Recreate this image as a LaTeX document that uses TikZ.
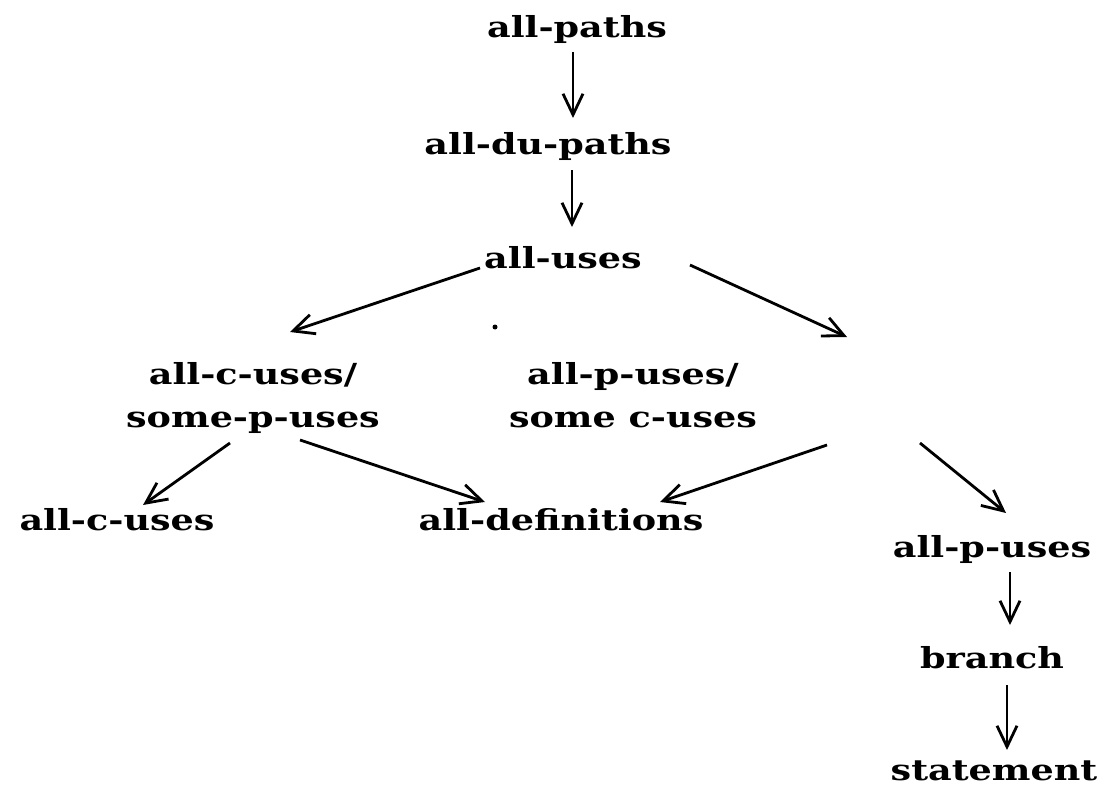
\documentclass[tikz,border=0pt]{standalone}
\usepackage{fontspec}
\usepackage{graphicx}
\setmainfont{DejaVu Serif}
\usetikzlibrary{arrows.meta}
% wide setting of the labels
\newcommand{\wlbl}[1]{\scalebox{1.26}[1]{#1}}
\begin{document}
\begin{tikzpicture}[x=1pt,y=-1pt,
  lbl/.style={font=\fontsize{29}{43}\selectfont\bfseries, inner sep=0pt, align=center, anchor=base},
  arr/.style={-{Straight Barb[length=21pt,width=20pt,line width=2.8pt]}, line width=2.8pt}]
\useasboundingbox (0,0) rectangle (1104,797);

% criteria
\node[lbl] (paths) at (577,38)  {\wlbl{all-paths}};
\node[lbl] (du)    at (548,155) {\wlbl{all-du-paths}};
\node[lbl] (uses)  at (563,268) {\wlbl{all-uses}};
\node[lbl] (cs)    at (253,427) {\wlbl{all-c-uses/}\\\wlbl{some-p-uses}};
\node[lbl] (ps)    at (633,427) {\wlbl{all-p-uses/}\\\wlbl{some c-uses}};
\node[lbl] (cu)    at (117,530) {\wlbl{all-c-uses}};
\node[lbl] (def)   at (561,530) {\wlbl{all-definitions}};
\node[lbl] (pu)    at (992,557) {\wlbl{all-p-uses}};
\node[lbl] (br)    at (992,668) {\wlbl{branch}};
\node[lbl] (st)    at (994,780) {\wlbl{statement}};

% subsumption arrows
\draw[arr] ([shift={(-4,14)}]paths.base) -- ([shift={(25,-37)}]du.base);
\draw[arr] ([shift={(24,15)}]du.base) -- ([shift={(9,-41)}]uses.base);
\draw[arr] ([shift={(-83,0)}]uses.base) -- ([shift={(37,-95)}]cs.base);
\draw[arr] ([shift={(127,-3)}]uses.base) -- ([shift={(214,-90)}]ps.base);
\draw[arr] ([shift={(-23,16)}]cs.base) -- ([shift={(26,-25)}]cu.base);
\draw[arr] ([shift={(47,13)}]cs.base) -- ([shift={(-76,-28)}]def.base);
\draw[arr] ([shift={(194,18)}]ps.base) -- ([shift={(99,-28)}]def.base);
\draw[arr] ([shift={(287,16)}]ps.base) -- ([shift={(14,-44)}]pu.base);
\draw[arr] ([shift={(18,15)}]pu.base) -- ([shift={(18,-43)}]br.base);
\draw[arr] ([shift={(15,17)}]br.base) -- ([shift={(13,-30)}]st.base);

% stray dot
\fill (495,327) circle (2.5pt);
\end{tikzpicture}
\end{document}
